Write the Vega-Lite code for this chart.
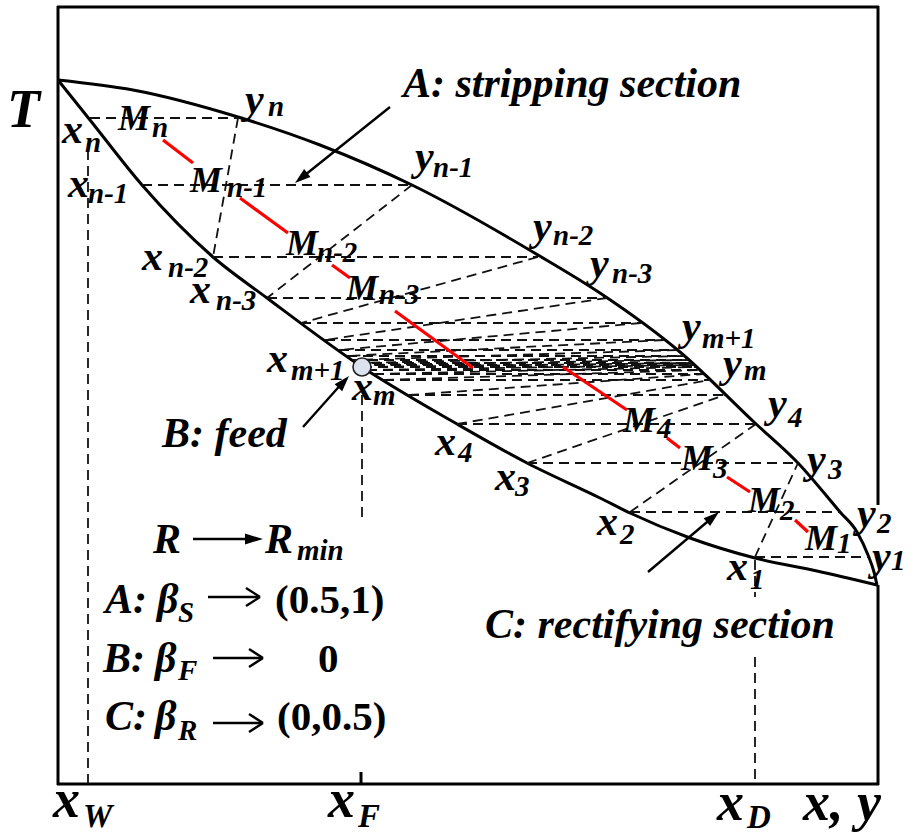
{
  "$schema": "https://vega.github.io/schema/vega-lite/v6.json",
  "width": 914,
  "height": 836,
  "autosize": {"type": "fit", "contains": "padding"},
  "padding": 0,
  "background": "white",
  "config": {"view": {"stroke": null}},
  "datasets": {
    "frame": [
      {"x": 58, "y": 6, "x2": 58, "y2": 785},
      {"x": 57, "y": 7, "x2": 879, "y2": 7},
      {"x": 57, "y": 784, "x2": 879, "y2": 784},
      {"x": 878, "y": 6, "x2": 878, "y2": 505},
      {"x": 878, "y": 585, "x2": 878, "y2": 785},
      {"x": 361, "y": 772, "x2": 361, "y2": 784}
    ],
    "curves": [
      {"c": "u", "i": 1, "x": 58, "y": 80},
      {"c": "u", "i": 2, "x": 133, "y": 90},
      {"c": "u", "i": 3, "x": 238, "y": 117},
      {"c": "u", "i": 4, "x": 320, "y": 145},
      {"c": "u", "i": 5, "x": 412, "y": 185},
      {"c": "u", "i": 6, "x": 538, "y": 255},
      {"c": "u", "i": 7, "x": 600, "y": 293},
      {"c": "u", "i": 8, "x": 680, "y": 352},
      {"c": "u", "i": 9, "x": 755, "y": 423},
      {"c": "u", "i": 10, "x": 798, "y": 463},
      {"c": "u", "i": 11, "x": 840, "y": 512},
      {"c": "u", "i": 12, "x": 857, "y": 532},
      {"c": "u", "i": 13, "x": 868, "y": 555},
      {"c": "u", "i": 14, "x": 874, "y": 572},
      {"c": "u", "i": 15, "x": 877, "y": 585},
      {"c": "l", "i": 1, "x": 58, "y": 80},
      {"c": "l", "i": 2, "x": 90, "y": 120},
      {"c": "l", "i": 3, "x": 142, "y": 185},
      {"c": "l", "i": 4, "x": 213, "y": 257},
      {"c": "l", "i": 5, "x": 267, "y": 298},
      {"c": "l", "i": 6, "x": 362, "y": 367},
      {"c": "l", "i": 7, "x": 457, "y": 424},
      {"c": "l", "i": 8, "x": 527, "y": 463},
      {"c": "l", "i": 9, "x": 600, "y": 498},
      {"c": "l", "i": 10, "x": 630, "y": 513},
      {"c": "l", "i": 11, "x": 690, "y": 538},
      {"c": "l", "i": 12, "x": 755, "y": 558},
      {"c": "l", "i": 13, "x": 817, "y": 571},
      {"c": "l", "i": 14, "x": 877, "y": 585}
    ],
    "dashed": [
      {"x": 90, "y": 118, "x2": 238, "y2": 118},
      {"x": 142, "y": 185, "x2": 412, "y2": 185},
      {"x": 213, "y": 257, "x2": 538, "y2": 257},
      {"x": 267, "y": 298, "x2": 607, "y2": 298},
      {"x": 301, "y": 323, "x2": 641, "y2": 323},
      {"x": 325, "y": 340, "x2": 664, "y2": 340},
      {"x": 339, "y": 350, "x2": 677, "y2": 350},
      {"x": 347, "y": 356, "x2": 684, "y2": 356},
      {"x": 352, "y": 360, "x2": 688, "y2": 360},
      {"x": 356, "y": 363, "x2": 692, "y2": 363},
      {"x": 359, "y": 365, "x2": 694, "y2": 365},
      {"x": 362, "y": 367, "x2": 696, "y2": 367},
      {"x": 367, "y": 370, "x2": 699, "y2": 370},
      {"x": 374, "y": 374, "x2": 703, "y2": 374},
      {"x": 384, "y": 380, "x2": 710, "y2": 380},
      {"x": 409, "y": 395, "x2": 725, "y2": 395},
      {"x": 457, "y": 424, "x2": 756, "y2": 424},
      {"x": 527, "y": 463, "x2": 798, "y2": 463},
      {"x": 630, "y": 512, "x2": 840, "y2": 512},
      {"x": 755, "y": 557, "x2": 868, "y2": 557},
      {"x": 238, "y": 118, "x2": 213, "y2": 257},
      {"x": 412, "y": 185, "x2": 267, "y2": 298},
      {"x": 538, "y": 257, "x2": 301, "y2": 323},
      {"x": 607, "y": 298, "x2": 325, "y2": 340},
      {"x": 641, "y": 323, "x2": 339, "y2": 350},
      {"x": 664, "y": 340, "x2": 347, "y2": 356},
      {"x": 677, "y": 350, "x2": 352, "y2": 360},
      {"x": 684, "y": 356, "x2": 356, "y2": 363},
      {"x": 688, "y": 360, "x2": 359, "y2": 365},
      {"x": 692, "y": 363, "x2": 362, "y2": 367},
      {"x": 755, "y": 557, "x2": 798, "y2": 463},
      {"x": 630, "y": 512, "x2": 756, "y2": 424},
      {"x": 527, "y": 463, "x2": 725, "y2": 395},
      {"x": 457, "y": 424, "x2": 710, "y2": 380},
      {"x": 409, "y": 395, "x2": 703, "y2": 374},
      {"x": 384, "y": 380, "x2": 699, "y2": 370},
      {"x": 374, "y": 374, "x2": 696, "y2": 367},
      {"x": 367, "y": 370, "x2": 694, "y2": 365},
      {"x": 88, "y": 150, "x2": 88, "y2": 784},
      {"x": 362, "y": 395, "x2": 362, "y2": 523},
      {"x": 755, "y": 560, "x2": 755, "y2": 597},
      {"x": 755, "y": 657, "x2": 755, "y2": 784}
    ],
    "red": [
      {"x": 163, "y": 140, "x2": 193, "y2": 163},
      {"x": 240, "y": 198, "x2": 288, "y2": 233},
      {"x": 332, "y": 265, "x2": 350, "y2": 278},
      {"x": 395, "y": 311, "x2": 473, "y2": 368},
      {"x": 563, "y": 367, "x2": 627, "y2": 410},
      {"x": 667, "y": 438, "x2": 680, "y2": 448},
      {"x": 727, "y": 477, "x2": 750, "y2": 492},
      {"x": 795, "y": 520, "x2": 808, "y2": 532}
    ],
    "arrows": [
      {"x": 390, "y": 107, "x2": 300, "y2": 179},
      {"x": 303, "y": 427, "x2": 344, "y2": 381},
      {"x": 648, "y": 572, "x2": 713, "y2": 517},
      {"x": 193, "y": 539, "x2": 250, "y2": 539},
      {"x": 208, "y": 597, "x2": 259, "y2": 597},
      {"x": 260, "y": 597, "x2": 246, "y2": 588},
      {"x": 260, "y": 597, "x2": 246, "y2": 606},
      {"x": 213, "y": 658, "x2": 262, "y2": 658},
      {"x": 263, "y": 658, "x2": 249, "y2": 649},
      {"x": 263, "y": 658, "x2": 249, "y2": 667},
      {"x": 213, "y": 723, "x2": 262, "y2": 723},
      {"x": 263, "y": 723, "x2": 249, "y2": 714},
      {"x": 263, "y": 723, "x2": 249, "y2": 732}
    ],
    "big": [
      {"x": 403, "y": 97, "t": "A: stripping section"},
      {"x": 162, "y": 447, "t": "B: feed"},
      {"x": 485, "y": 638, "t": "C: rectifying section"},
      {"x": 153, "y": 553, "t": "R"},
      {"x": 265, "y": 553, "t": "R"},
      {"x": 105, "y": 613, "t": "A:"},
      {"x": 157, "y": 613, "t": "β"},
      {"x": 103, "y": 672, "t": "B:"},
      {"x": 155, "y": 672, "t": "β"},
      {"x": 105, "y": 730, "t": "C:"},
      {"x": 155, "y": 730, "t": "β"}
    ],
    "nums": [
      {"x": 275, "y": 613, "t": "(0.5,1)"},
      {"x": 318, "y": 672, "t": "0"},
      {"x": 277, "y": 730, "t": "(0,0.5)"}
    ],
    "xy": [
      {"x": 245, "y": 113, "t": "y"},
      {"x": 62, "y": 143, "t": "x"},
      {"x": 68, "y": 197, "t": "x"},
      {"x": 142, "y": 270, "t": "x"},
      {"x": 190, "y": 303, "t": "x"},
      {"x": 415, "y": 170, "t": "y"},
      {"x": 533, "y": 240, "t": "y"},
      {"x": 590, "y": 277, "t": "y"},
      {"x": 267, "y": 372, "t": "x"},
      {"x": 352, "y": 400, "t": "x"},
      {"x": 435, "y": 455, "t": "x"},
      {"x": 495, "y": 490, "t": "x"},
      {"x": 682, "y": 340, "t": "y"},
      {"x": 723, "y": 377, "t": "y"},
      {"x": 768, "y": 417, "t": "y"},
      {"x": 807, "y": 473, "t": "y"},
      {"x": 857, "y": 527, "t": "y"},
      {"x": 872, "y": 570, "t": "y"},
      {"x": 597, "y": 535, "t": "x"},
      {"x": 727, "y": 580, "t": "x"}
    ],
    "ms": [
      {"x": 118, "y": 130, "t": "M"},
      {"x": 190, "y": 192, "t": "M"},
      {"x": 286, "y": 255, "t": "M"},
      {"x": 346, "y": 300, "t": "M"},
      {"x": 623, "y": 432, "t": "M"},
      {"x": 681, "y": 470, "t": "M"},
      {"x": 748, "y": 512, "t": "M"},
      {"x": 805, "y": 550, "t": "M"}
    ],
    "subs": [
      {"x": 268, "y": 116, "t": "n"},
      {"x": 85, "y": 152, "t": "n"},
      {"x": 152, "y": 137, "t": "n"},
      {"x": 88, "y": 203, "t": "n-1"},
      {"x": 227, "y": 197, "t": "n-1"},
      {"x": 317, "y": 262, "t": "n-2"},
      {"x": 168, "y": 277, "t": "n-2"},
      {"x": 216, "y": 310, "t": "n-3"},
      {"x": 433, "y": 177, "t": "n-1"},
      {"x": 553, "y": 245, "t": "n-2"},
      {"x": 612, "y": 283, "t": "n-3"},
      {"x": 379, "y": 304, "t": "n-3"},
      {"x": 291, "y": 380, "t": "m+1"},
      {"x": 373, "y": 405, "t": "m"},
      {"x": 458, "y": 462, "t": "4"},
      {"x": 515, "y": 496, "t": "3"},
      {"x": 702, "y": 348, "t": "m+1"},
      {"x": 744, "y": 380, "t": "m"},
      {"x": 788, "y": 427, "t": "4"},
      {"x": 828, "y": 479, "t": "3"},
      {"x": 877, "y": 533, "t": "2"},
      {"x": 891, "y": 570, "t": "1"},
      {"x": 657, "y": 438, "t": "4"},
      {"x": 713, "y": 478, "t": "3"},
      {"x": 780, "y": 520, "t": "2"},
      {"x": 837, "y": 553, "t": "1"},
      {"x": 620, "y": 544, "t": "2"},
      {"x": 750, "y": 589, "t": "1"},
      {"x": 297, "y": 560, "t": "min"},
      {"x": 178, "y": 622, "t": "S"},
      {"x": 178, "y": 680, "t": "F"},
      {"x": 178, "y": 740, "t": "R"}
    ],
    "axislab": [
      {"x": 7, "y": 127, "t": "T"},
      {"x": 53, "y": 817, "t": "x"},
      {"x": 328, "y": 817, "t": "x"},
      {"x": 717, "y": 820, "t": "x"},
      {"x": 803, "y": 820, "t": "x, y"}
    ],
    "axissub": [
      {"x": 83, "y": 827, "t": "W"},
      {"x": 358, "y": 827, "t": "F"},
      {"x": 747, "y": 828, "t": "D"}
    ]
  },
  "encoding": {
    "x": {"field": "x", "type": "quantitative", "scale": {"domain": [0, 914], "nice": false, "zero": false}, "axis": null},
    "y": {"field": "y", "type": "quantitative", "scale": {"domain": [0, 836], "reverse": true, "nice": false, "zero": false}, "axis": null}
  },
  "layer": [
    {
      "data": {"name": "frame"},
      "mark": {"type": "rule", "color": "#000000", "strokeWidth": 3},
      "encoding": {"x2": {"field": "x2"}, "y2": {"field": "y2"}}
    },
    {
      "data": {"name": "curves"},
      "mark": {"type": "line", "color": "#000000", "strokeWidth": 3, "interpolate": "monotone"},
      "encoding": {"detail": {"field": "c"}, "order": {"field": "i"}}
    },
    {
      "data": {"name": "dashed"},
      "mark": {"type": "rule", "color": "#111111", "strokeWidth": 1.8, "strokeDash": [10, 6]},
      "encoding": {"x2": {"field": "x2"}, "y2": {"field": "y2"}}
    },
    {
      "data": {"name": "red"},
      "mark": {"type": "rule", "color": "#ff0000", "strokeWidth": 3.2},
      "encoding": {"x2": {"field": "x2"}, "y2": {"field": "y2"}}
    },
    {
      "data": {"name": "arrows"},
      "mark": {"type": "rule", "color": "#000000", "strokeWidth": 2.4},
      "encoding": {"x2": {"field": "x2"}, "y2": {"field": "y2"}}
    },
    {
      "data": {"values": [{"x": 295, "y": 183}]},
      "mark": {"type": "point", "shape": "M0,0L-0.32,1L0.32,1Z", "size": 1000, "filled": true, "color": "#000000", "opacity": 1, "angle": 231}
    },
    {
      "data": {"values": [{"x": 349, "y": 376}]},
      "mark": {"type": "point", "shape": "M0,0L-0.32,1L0.32,1Z", "size": 1000, "filled": true, "color": "#000000", "opacity": 1, "angle": 42}
    },
    {
      "data": {"values": [{"x": 719, "y": 512}]},
      "mark": {"type": "point", "shape": "M0,0L-0.32,1L0.32,1Z", "size": 1000, "filled": true, "color": "#000000", "opacity": 1, "angle": 50}
    },
    {
      "data": {"values": [{"x": 263, "y": 539}]},
      "mark": {"type": "point", "shape": "M0,0L-0.3,1L0.3,1Z", "size": 1300, "filled": true, "color": "#000000", "opacity": 1, "angle": 90}
    },
    {
      "data": {"values": [{"x": 362, "y": 367}]},
      "mark": {"type": "point", "shape": "circle", "size": 324, "filled": true, "fill": "#dde3ee", "stroke": "#222222", "strokeWidth": 1.6, "opacity": 1}
    },
    {
      "data": {"name": "big"},
      "mark": {"type": "text", "align": "left", "baseline": "alphabetic", "font": "Liberation Serif", "fontStyle": "italic", "fontWeight": "bold", "fontSize": 42, "color": "#000000"},
      "encoding": {"text": {"field": "t"}}
    },
    {
      "data": {"name": "nums"},
      "mark": {"type": "text", "align": "left", "baseline": "alphabetic", "font": "Liberation Serif", "fontWeight": "bold", "fontSize": 41, "color": "#000000"},
      "encoding": {"text": {"field": "t"}}
    },
    {
      "data": {"name": "xy"},
      "mark": {"type": "text", "align": "left", "baseline": "alphabetic", "font": "Liberation Serif", "fontStyle": "italic", "fontWeight": "bold", "fontSize": 42, "color": "#000000"},
      "encoding": {"text": {"field": "t"}}
    },
    {
      "data": {"name": "ms"},
      "mark": {"type": "text", "align": "left", "baseline": "alphabetic", "font": "Liberation Serif", "fontStyle": "italic", "fontWeight": "bold", "fontSize": 36, "color": "#000000"},
      "encoding": {"text": {"field": "t"}}
    },
    {
      "data": {"name": "subs"},
      "mark": {"type": "text", "align": "left", "baseline": "alphabetic", "font": "Liberation Serif", "fontStyle": "italic", "fontWeight": "bold", "fontSize": 29, "color": "#000000"},
      "encoding": {"text": {"field": "t"}}
    },
    {
      "data": {"name": "axislab"},
      "mark": {"type": "text", "align": "left", "baseline": "alphabetic", "font": "Liberation Serif", "fontStyle": "italic", "fontWeight": "bold", "fontSize": 54, "color": "#000000"},
      "encoding": {"text": {"field": "t"}}
    },
    {
      "data": {"name": "axissub"},
      "mark": {"type": "text", "align": "left", "baseline": "alphabetic", "font": "Liberation Serif", "fontStyle": "italic", "fontWeight": "bold", "fontSize": 33, "color": "#000000"},
      "encoding": {"text": {"field": "t"}}
    }
  ]
}
